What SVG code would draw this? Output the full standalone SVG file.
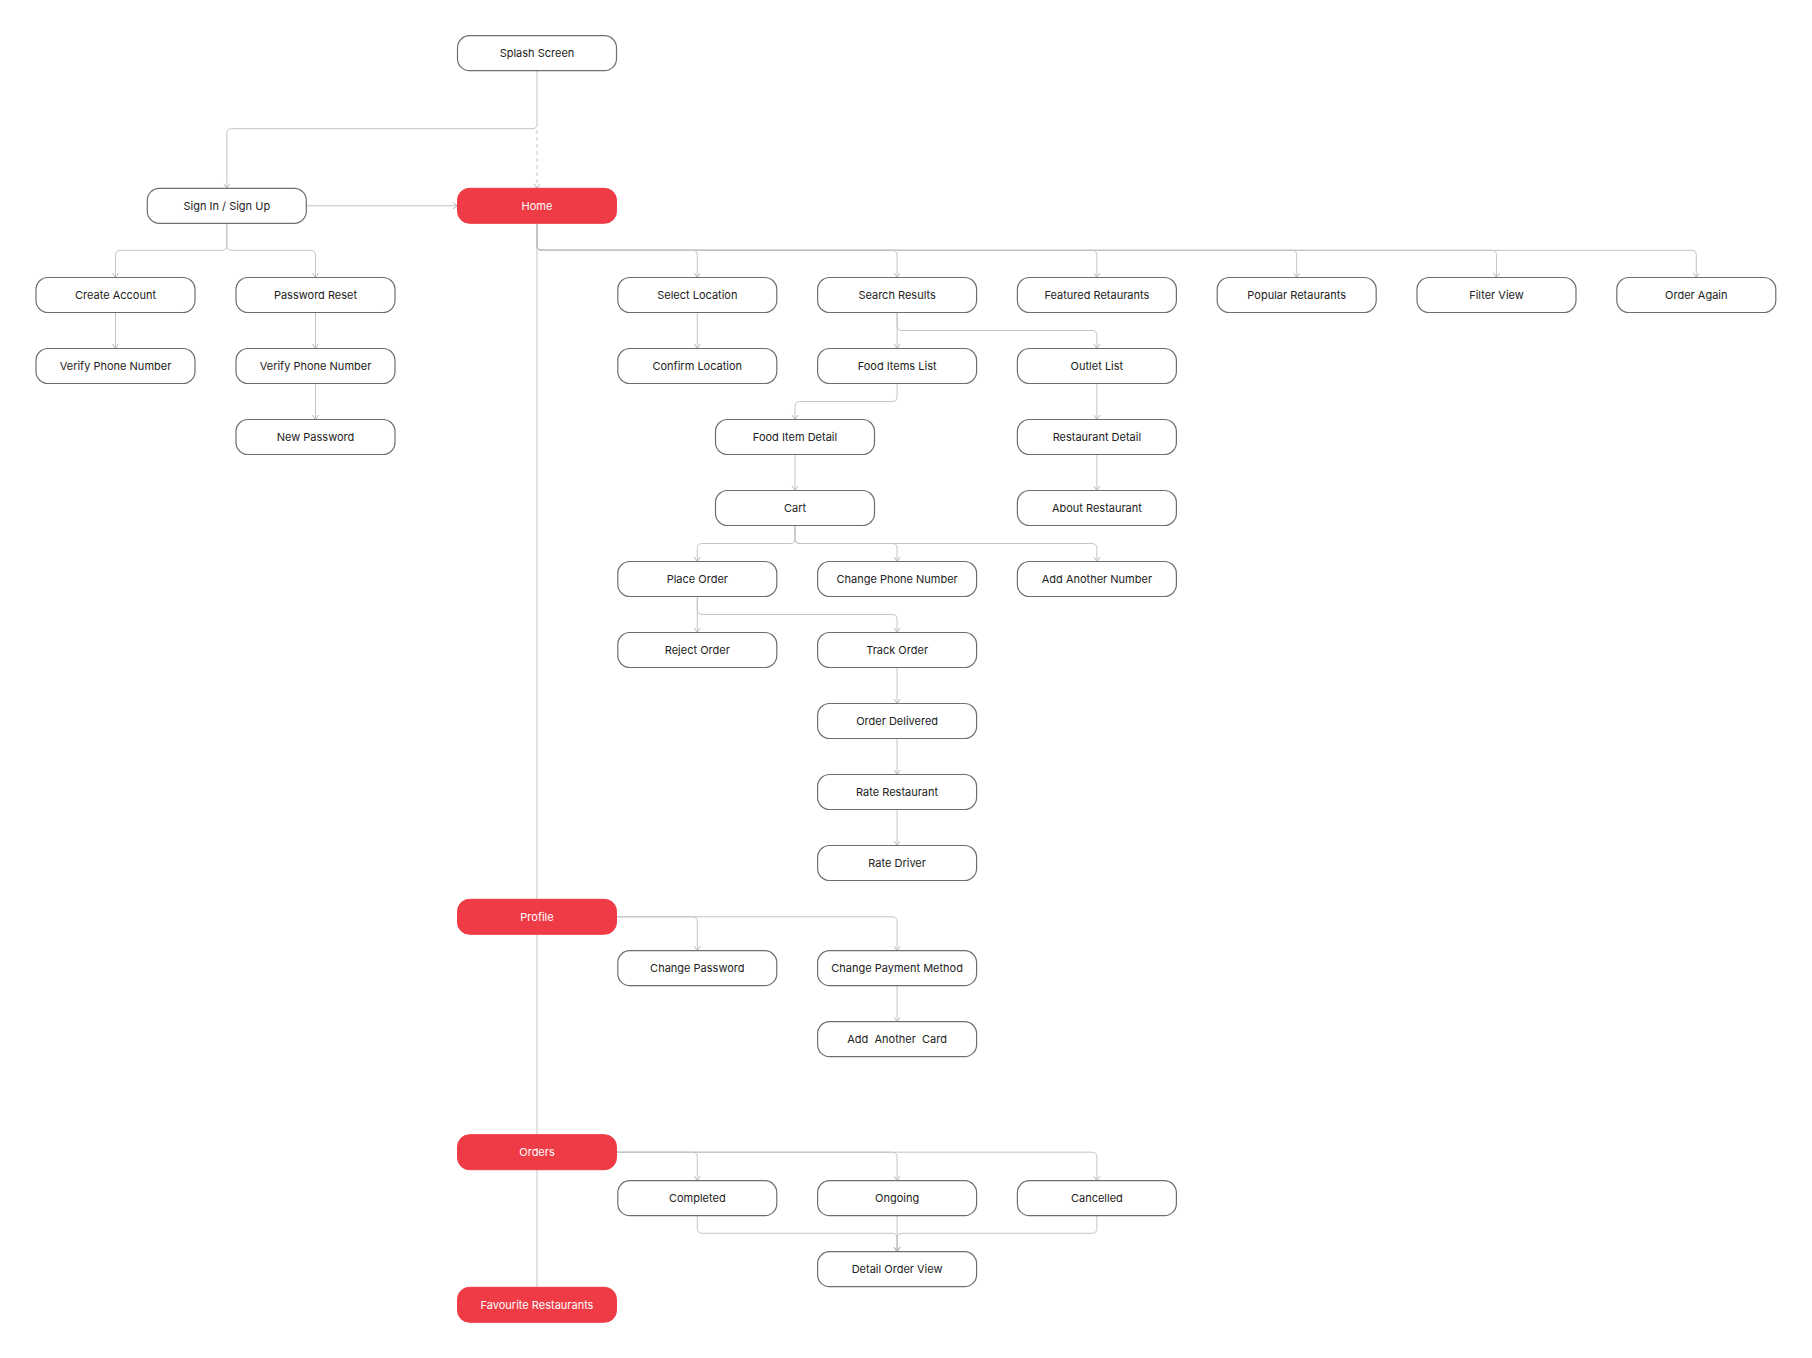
<svg xmlns="http://www.w3.org/2000/svg" width="1812" height="1358" viewBox="0 0 1812 1358">
<style>
.n rect{fill:#fff;stroke:#6e6e6e;stroke-width:1.2}
.n text{font-family:Inter,"Liberation Sans",sans-serif;font-size:11px;fill:#222;text-anchor:middle}
.r rect{fill:#ef3b45;stroke:#ef3b45;stroke-width:1}
.r text{font-family:Inter,"Liberation Sans",sans-serif;font-size:11px;fill:#fff;text-anchor:middle}
#connectors path{fill:none;stroke:#c4c4c4;stroke-width:1}
#connectors .a{marker-end:url(#arr)}
#connectors .d{stroke-dasharray:4 3}
</style>
<defs>
<marker id="arr" viewBox="0 0 6 8" refX="5.5" refY="4" markerWidth="6" markerHeight="8" markerUnits="userSpaceOnUse" orient="auto">
<path d="M1,1 L5.5,4 L1,7" fill="none" stroke="#b8b8b8" stroke-width="1"/>
</marker>
</defs>
<rect width="1812" height="1358" fill="#fff"/>
<g id="connectors">
<path class="a" d="M537,70.7 V123.7 Q537,128.7 532,128.7 H231.8 Q226.8,128.7 226.8,133.7 V188.3"/>
<path class="a d" d="M537,130 V188.3"/>
<path class="a" d="M306.3,205.8 H457.5"/>
<path class="a" d="M226.8,223.3 V245.3 Q226.8,250.3 221.8,250.3 H120.5 Q115.5,250.3 115.5,255.3 V277.5"/>
<path class="a" d="M226.8,223.3 V245.3 Q226.8,250.3 231.8,250.3 H310.5 Q315.5,250.3 315.5,255.3 V277.5"/>
<path class="a" d="M115.5,312.5 V348.5"/>
<path class="a" d="M315.5,312.5 V348.5"/>
<path class="a" d="M315.5,383.5 V419.5"/>
<path d="M537,223.3 V1287.3"/>
<path class="a" d="M537,223.3 V245.3 Q537,250.3 542,250.3 H692.3 Q697.3,250.3 697.3,255.3 V277.5"/>
<path class="a" d="M537,223.3 V245.3 Q537,250.3 542,250.3 H892.1 Q897.1,250.3 897.1,255.3 V277.5"/>
<path class="a" d="M537,223.3 V245.3 Q537,250.3 542,250.3 H1091.9 Q1096.9,250.3 1096.9,255.3 V277.5"/>
<path class="a" d="M537,223.3 V245.3 Q537,250.3 542,250.3 H1291.7 Q1296.7,250.3 1296.7,255.3 V277.5"/>
<path class="a" d="M537,223.3 V245.3 Q537,250.3 542,250.3 H1491.5 Q1496.5,250.3 1496.5,255.3 V277.5"/>
<path class="a" d="M537,223.3 V245.3 Q537,250.3 542,250.3 H1691.3 Q1696.3,250.3 1696.3,255.3 V277.5"/>
<path class="a" d="M697.3,312.5 V348.5"/>
<path class="a" d="M897.1,312.5 V348.5"/>
<path class="a" d="M897.1,312.5 V325.5 Q897.1,330.5 902.1,330.5 H1091.9 Q1096.9,330.5 1096.9,335.5 V348.5"/>
<path class="a" d="M897.1,383.5 V396.5 Q897.1,401.5 892.1,401.5 H800 Q795,401.5 795,406.5 V419.5"/>
<path class="a" d="M1096.9,383.5 V419.5"/>
<path class="a" d="M1096.9,454.5 V490.5"/>
<path class="a" d="M795,454.5 V490.5"/>
<path class="a" d="M795,525.5 V538.5 Q795,543.5 790,543.5 H702.3 Q697.3,543.5 697.3,548.5 V561.5"/>
<path class="a" d="M795,525.5 V538.5 Q795,543.5 800,543.5 H892.1 Q897.1,543.5 897.1,548.5 V561.5"/>
<path class="a" d="M795,525.5 V538.5 Q795,543.5 800,543.5 H1091.9 Q1096.9,543.5 1096.9,548.5 V561.5"/>
<path class="a" d="M697.3,596.5 V632.5"/>
<path class="a" d="M697.3,596.5 V609.5 Q697.3,614.5 702.3,614.5 H892.1 Q897.1,614.5 897.1,619.5 V632.5"/>
<path class="a" d="M897.1,667.5 V703.5"/>
<path class="a" d="M897.1,738.5 V774.5"/>
<path class="a" d="M897.1,809.5 V845.5"/>
<path class="a" d="M616.5,916.8 H692.3 Q697.3,916.8 697.3,921.8 V950.7"/>
<path class="a" d="M616.5,916.8 H892.1 Q897.1,916.8 897.1,921.8 V950.7"/>
<path class="a" d="M897.1,985.7 V1021.7"/>
<path class="a" d="M616.5,1152.2 H692.3 Q697.3,1152.2 697.3,1157.2 V1180.7"/>
<path class="a" d="M616.5,1152.2 H892.1 Q897.1,1152.2 897.1,1157.2 V1180.7"/>
<path class="a" d="M616.5,1152.2 H1091.9 Q1096.9,1152.2 1096.9,1157.2 V1180.7"/>
<path class="a" d="M697.3,1215.7 V1228.3 Q697.3,1233.3 702.3,1233.3 H892.1 Q897.1,1233.3 897.1,1238.3 V1251.7"/>
<path class="a" d="M897.1,1215.7 V1251.7"/>
<path class="a" d="M1096.9,1215.7 V1228.3 Q1096.9,1233.3 1091.9,1233.3 H902.1 Q897.1,1233.3 897.1,1238.3 V1251.7"/>
</g>
<g id="splash" class="n"><rect x="457.5" y="35.7" width="159" height="35" rx="12"/><text x="537" y="57.2">Splash Screen</text></g>
<g id="signin" class="n"><rect x="147.3" y="188.3" width="159" height="35" rx="12"/><text x="226.8" y="209.8">Sign In / Sign Up</text></g>
<g id="home" class="r"><rect x="457.5" y="188.3" width="159" height="35" rx="12"/><text x="537" y="209.8">Home</text></g>
<g id="create-account" class="n"><rect x="36" y="277.5" width="159" height="35" rx="12"/><text x="115.5" y="299">Create Account</text></g>
<g id="password-reset" class="n"><rect x="236" y="277.5" width="159" height="35" rx="12"/><text x="315.5" y="299">Password Reset</text></g>
<g id="verify-1" class="n"><rect x="36" y="348.5" width="159" height="35" rx="12"/><text x="115.5" y="370">Verify Phone Number</text></g>
<g id="verify-2" class="n"><rect x="236" y="348.5" width="159" height="35" rx="12"/><text x="315.5" y="370">Verify Phone Number</text></g>
<g id="new-password" class="n"><rect x="236" y="419.5" width="159" height="35" rx="12"/><text x="315.5" y="441">New Password</text></g>
<g id="select-location" class="n"><rect x="617.8" y="277.5" width="159" height="35" rx="12"/><text x="697.3" y="299">Select Location</text></g>
<g id="search-results" class="n"><rect x="817.6" y="277.5" width="159" height="35" rx="12"/><text x="897.1" y="299">Search Results</text></g>
<g id="featured" class="n"><rect x="1017.4" y="277.5" width="159" height="35" rx="12"/><text x="1096.9" y="299">Featured Retaurants</text></g>
<g id="popular" class="n"><rect x="1217.2" y="277.5" width="159" height="35" rx="12"/><text x="1296.7" y="299">Popular Retaurants</text></g>
<g id="filter" class="n"><rect x="1417" y="277.5" width="159" height="35" rx="12"/><text x="1496.5" y="299">Filter View</text></g>
<g id="order-again" class="n"><rect x="1616.8" y="277.5" width="159" height="35" rx="12"/><text x="1696.3" y="299">Order Again</text></g>
<g id="confirm-location" class="n"><rect x="617.8" y="348.5" width="159" height="35" rx="12"/><text x="697.3" y="370">Confirm Location</text></g>
<g id="food-items-list" class="n"><rect x="817.6" y="348.5" width="159" height="35" rx="12"/><text x="897.1" y="370">Food Items List</text></g>
<g id="outlet-list" class="n"><rect x="1017.4" y="348.5" width="159" height="35" rx="12"/><text x="1096.9" y="370">Outlet List</text></g>
<g id="food-item-detail" class="n"><rect x="715.5" y="419.5" width="159" height="35" rx="12"/><text x="795" y="441">Food Item Detail</text></g>
<g id="restaurant-detail" class="n"><rect x="1017.4" y="419.5" width="159" height="35" rx="12"/><text x="1096.9" y="441">Restaurant Detail</text></g>
<g id="cart" class="n"><rect x="715.5" y="490.5" width="159" height="35" rx="12"/><text x="795" y="512">Cart</text></g>
<g id="about-restaurant" class="n"><rect x="1017.4" y="490.5" width="159" height="35" rx="12"/><text x="1096.9" y="512">About Restaurant</text></g>
<g id="place-order" class="n"><rect x="617.8" y="561.5" width="159" height="35" rx="12"/><text x="697.3" y="583">Place Order</text></g>
<g id="change-phone" class="n"><rect x="817.6" y="561.5" width="159" height="35" rx="12"/><text x="897.1" y="583">Change Phone Number</text></g>
<g id="add-number" class="n"><rect x="1017.4" y="561.5" width="159" height="35" rx="12"/><text x="1096.9" y="583">Add Another Number</text></g>
<g id="reject-order" class="n"><rect x="617.8" y="632.5" width="159" height="35" rx="12"/><text x="697.3" y="654">Reject Order</text></g>
<g id="track-order" class="n"><rect x="817.6" y="632.5" width="159" height="35" rx="12"/><text x="897.1" y="654">Track Order</text></g>
<g id="order-delivered" class="n"><rect x="817.6" y="703.5" width="159" height="35" rx="12"/><text x="897.1" y="725">Order Delivered</text></g>
<g id="rate-restaurant" class="n"><rect x="817.6" y="774.5" width="159" height="35" rx="12"/><text x="897.1" y="796">Rate Restaurant</text></g>
<g id="rate-driver" class="n"><rect x="817.6" y="845.5" width="159" height="35" rx="12"/><text x="897.1" y="867">Rate Driver</text></g>
<g id="profile" class="r"><rect x="457.5" y="899.3" width="159" height="35" rx="12"/><text x="537" y="920.8">Profile</text></g>
<g id="change-password" class="n"><rect x="617.8" y="950.7" width="159" height="35" rx="12"/><text x="697.3" y="972.2">Change Password</text></g>
<g id="change-payment" class="n"><rect x="817.6" y="950.7" width="159" height="35" rx="12"/><text x="897.1" y="972.2">Change Payment Method</text></g>
<g id="add-card" class="n"><rect x="817.6" y="1021.7" width="159" height="35" rx="12"/><text x="897.1" y="1043.2" xml:space="preserve" style="white-space:pre">Add  Another  Card</text></g>
<g id="orders" class="r"><rect x="457.5" y="1134.7" width="159" height="35" rx="12"/><text x="537" y="1156.2">Orders</text></g>
<g id="completed" class="n"><rect x="617.8" y="1180.7" width="159" height="35" rx="12"/><text x="697.3" y="1202.2">Completed</text></g>
<g id="ongoing" class="n"><rect x="817.6" y="1180.7" width="159" height="35" rx="12"/><text x="897.1" y="1202.2">Ongoing</text></g>
<g id="cancelled" class="n"><rect x="1017.4" y="1180.7" width="159" height="35" rx="12"/><text x="1096.9" y="1202.2">Cancelled</text></g>
<g id="detail-order" class="n"><rect x="817.6" y="1251.7" width="159" height="35" rx="12"/><text x="897.1" y="1273.2">Detail Order View</text></g>
<g id="favourites" class="r"><rect x="457.5" y="1287.3" width="159" height="35" rx="12"/><text x="537" y="1308.8">Favourite Restaurants</text></g>
</svg>
